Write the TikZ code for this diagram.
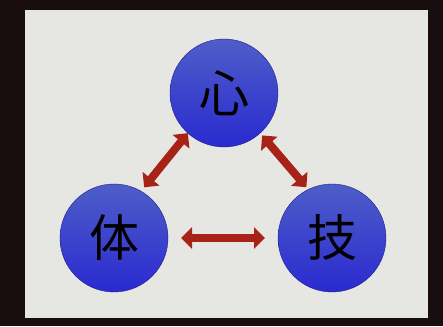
\documentclass[tikz,border=0pt]{standalone}
\usepackage{fontspec}
\newfontfamily\cjk{Noto Sans CJK JP}
\usepackage{tikz}
\usetikzlibrary{positioning, shapes, arrows.meta}

\definecolor{frame}{RGB}{24,14,15}
\definecolor{slide}{RGB}{230,230,226}
\definecolor{balltop}{RGB}{78,94,200}
\definecolor{ballbot}{RGB}{42,42,208}
\definecolor{arrowred}{RGB}{168,34,24}

\tikzset{
    ball/.style={circle, minimum size=108pt, inner sep=0pt, outer sep=0pt,
        top color=balltop, bottom color=ballbot, draw=ballbot!70!black, thin,
        font=\cjk\fontsize{50}{50}\selectfont, text=black},
    link/.style={line width=8pt, draw=arrowred,
        {Triangle[width=21pt,length=11pt]}-{Triangle[width=21pt,length=11pt]}}
}

\begin{document}
\begin{tikzpicture}[x=1pt, y=1pt]
    % photo frame and slide
    \fill[frame] (0,0) rectangle (443,326);
    \fill[slide] (25,8) rectangle (428,316);

    \node[ball] (kokoro) at (224,233) {心};
    \node[ball] (karada) at (114,88) {体};
    \node[ball] (waza) at (332,88) {技};

    \draw[link, shorten <=5pt] (karada.60) -- (kokoro.228);
    \draw[link, shorten <=3pt, shorten >=3pt] (kokoro.312) -- (waza.116);
    \draw[link, shorten <=13pt, shorten >=13pt] (karada.east) -- (waza.west);
\end{tikzpicture}
\end{document}
